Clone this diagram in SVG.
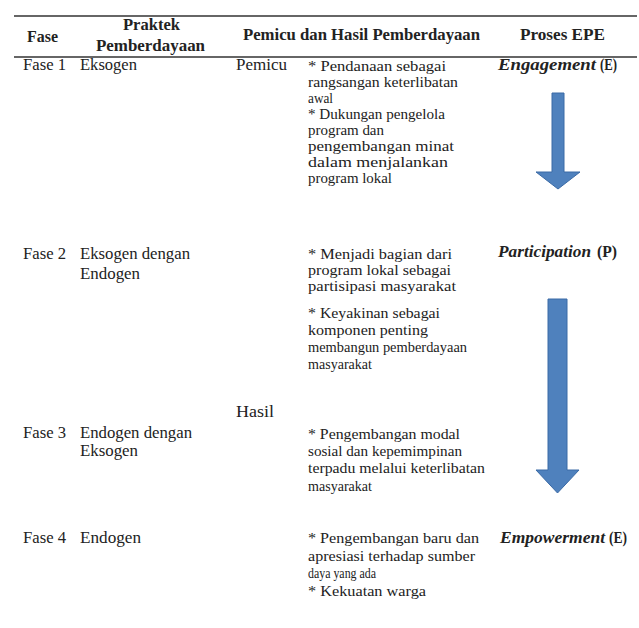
<svg xmlns="http://www.w3.org/2000/svg" width="639" height="628" viewBox="0 0 639 628">
<defs>
<style>
text{font-family:'Liberation Serif','Times New Roman',serif;font-size:16px;fill:#222}
.c{font-size:14px}
.h{font-weight:bold;font-size:16px}
.e{font-weight:bold;font-size:16px}
.i{font-style:italic}
.rule{stroke:#333;stroke-width:1.6}
.arrow{fill:#4f81bd;stroke:#3a6aa6;stroke-width:1}
</style>
</defs>
<rect width="639" height="628" fill="#fff"/>
<g id="rules">
<line class="rule" x1="14" y1="16" x2="637" y2="16"/>
<line class="rule" x1="14" y1="57" x2="637" y2="57"/>
</g>
<g id="header">
<text class="h" x="27" y="42" textLength="31" lengthAdjust="spacingAndGlyphs">Fase</text>
<text class="h" x="123" y="30" textLength="57" lengthAdjust="spacingAndGlyphs">Praktek</text>
<text class="h" x="96" y="51" textLength="109" lengthAdjust="spacingAndGlyphs">Pemberdayaan</text>
<text class="h" x="243" y="40" textLength="237" lengthAdjust="spacingAndGlyphs">Pemicu dan Hasil Pemberdayaan</text>
<text class="h" x="520" y="40" textLength="85" lengthAdjust="spacingAndGlyphs">Proses EPE</text>
</g>
<g id="fase1">
<text x="23" y="70" textLength="43" lengthAdjust="spacingAndGlyphs">Fase 1</text>
<text x="80" y="70" textLength="57" lengthAdjust="spacingAndGlyphs">Eksogen</text>
<text x="236" y="70" textLength="51" lengthAdjust="spacingAndGlyphs">Pemicu</text>
<text class="c" x="308" y="71" textLength="138" lengthAdjust="spacingAndGlyphs">* Pendanaan sebagai</text>
<text class="c" x="308" y="87" textLength="150" lengthAdjust="spacingAndGlyphs">rangsangan keterlibatan</text>
<text class="c" x="308" y="103" textLength="25" lengthAdjust="spacingAndGlyphs">awal</text>
<text class="c" x="308" y="119" textLength="137" lengthAdjust="spacingAndGlyphs">* Dukungan pengelola</text>
<text class="c" x="308" y="135" textLength="76" lengthAdjust="spacingAndGlyphs">program dan</text>
<text class="c" x="308" y="151" textLength="146" lengthAdjust="spacingAndGlyphs">pengembangan minat</text>
<text class="c" x="308" y="167" textLength="140" lengthAdjust="spacingAndGlyphs">dalam menjalankan</text>
<text class="c" x="308" y="183" textLength="84" lengthAdjust="spacingAndGlyphs">program lokal</text>
<text class="e i" x="498" y="70" textLength="98" lengthAdjust="spacingAndGlyphs">Engagement</text>
<text class="e" x="600" y="70" textLength="17" lengthAdjust="spacingAndGlyphs">(E)</text>
</g>
<g id="fase2">
<text x="23" y="259" textLength="43" lengthAdjust="spacingAndGlyphs">Fase 2</text>
<text x="80" y="259" textLength="110" lengthAdjust="spacingAndGlyphs">Eksogen dengan</text>
<text x="80" y="279" textLength="60" lengthAdjust="spacingAndGlyphs">Endogen</text>
<text class="c" x="308" y="259" textLength="144" lengthAdjust="spacingAndGlyphs">* Menjadi bagian dari</text>
<text class="c" x="308" y="275" textLength="143" lengthAdjust="spacingAndGlyphs">program lokal sebagai</text>
<text class="c" x="308" y="291" textLength="148" lengthAdjust="spacingAndGlyphs">partisipasi masyarakat</text>
<text class="c" x="308" y="318" textLength="132" lengthAdjust="spacingAndGlyphs">* Keyakinan sebagai</text>
<text class="c" x="308" y="335" textLength="120" lengthAdjust="spacingAndGlyphs">komponen penting</text>
<text class="c" x="308" y="352" textLength="159" lengthAdjust="spacingAndGlyphs">membangun pemberdayaan</text>
<text class="c" x="308" y="369" textLength="64" lengthAdjust="spacingAndGlyphs">masyarakat</text>
<text class="e i" x="498" y="257" textLength="93" lengthAdjust="spacingAndGlyphs">Participation</text>
<text class="e" x="597" y="257" textLength="20" lengthAdjust="spacingAndGlyphs">(P)</text>
</g>
<g id="hasil">
<text x="236" y="417" textLength="38" lengthAdjust="spacingAndGlyphs">Hasil</text>
</g>
<g id="fase3">
<text x="23" y="438" textLength="43" lengthAdjust="spacingAndGlyphs">Fase 3</text>
<text x="80" y="438" textLength="112" lengthAdjust="spacingAndGlyphs">Endogen dengan</text>
<text x="80" y="456" textLength="58" lengthAdjust="spacingAndGlyphs">Eksogen</text>
<text class="c" x="308" y="439" textLength="152" lengthAdjust="spacingAndGlyphs">* Pengembangan modal</text>
<text class="c" x="308" y="456" textLength="154" lengthAdjust="spacingAndGlyphs">sosial dan kepemimpinan</text>
<text class="c" x="308" y="473" textLength="177" lengthAdjust="spacingAndGlyphs">terpadu melalui keterlibatan</text>
<text class="c" x="308" y="491" textLength="64" lengthAdjust="spacingAndGlyphs">masyarakat</text>
</g>
<g id="fase4">
<text x="23" y="543" textLength="43" lengthAdjust="spacingAndGlyphs">Fase 4</text>
<text x="80" y="543" textLength="61" lengthAdjust="spacingAndGlyphs">Endogen</text>
<text class="c" x="308" y="543" textLength="171" lengthAdjust="spacingAndGlyphs">* Pengembangan baru dan</text>
<text class="c" x="308" y="561" textLength="167" lengthAdjust="spacingAndGlyphs">apresiasi terhadap sumber</text>
<text class="c" x="308" y="578" textLength="68" lengthAdjust="spacingAndGlyphs">daya yang ada</text>
<text class="c" x="308" y="596" textLength="118" lengthAdjust="spacingAndGlyphs">* Kekuatan warga</text>
<text class="e i" x="500" y="543" textLength="105" lengthAdjust="spacingAndGlyphs">Empowerment</text>
<text class="e" x="609" y="543" textLength="18" lengthAdjust="spacingAndGlyphs">(E)</text>
</g>
<g id="connectors">
<path id="arrow1" class="arrow" d="M552,93 H564 V172 H580 L558,189 L536,172 H552 Z"/>
<path id="arrow2" class="arrow" d="M548,299 H567 V470 H579 L557.5,493 L536,470 H548 Z"/>
</g>
</svg>
